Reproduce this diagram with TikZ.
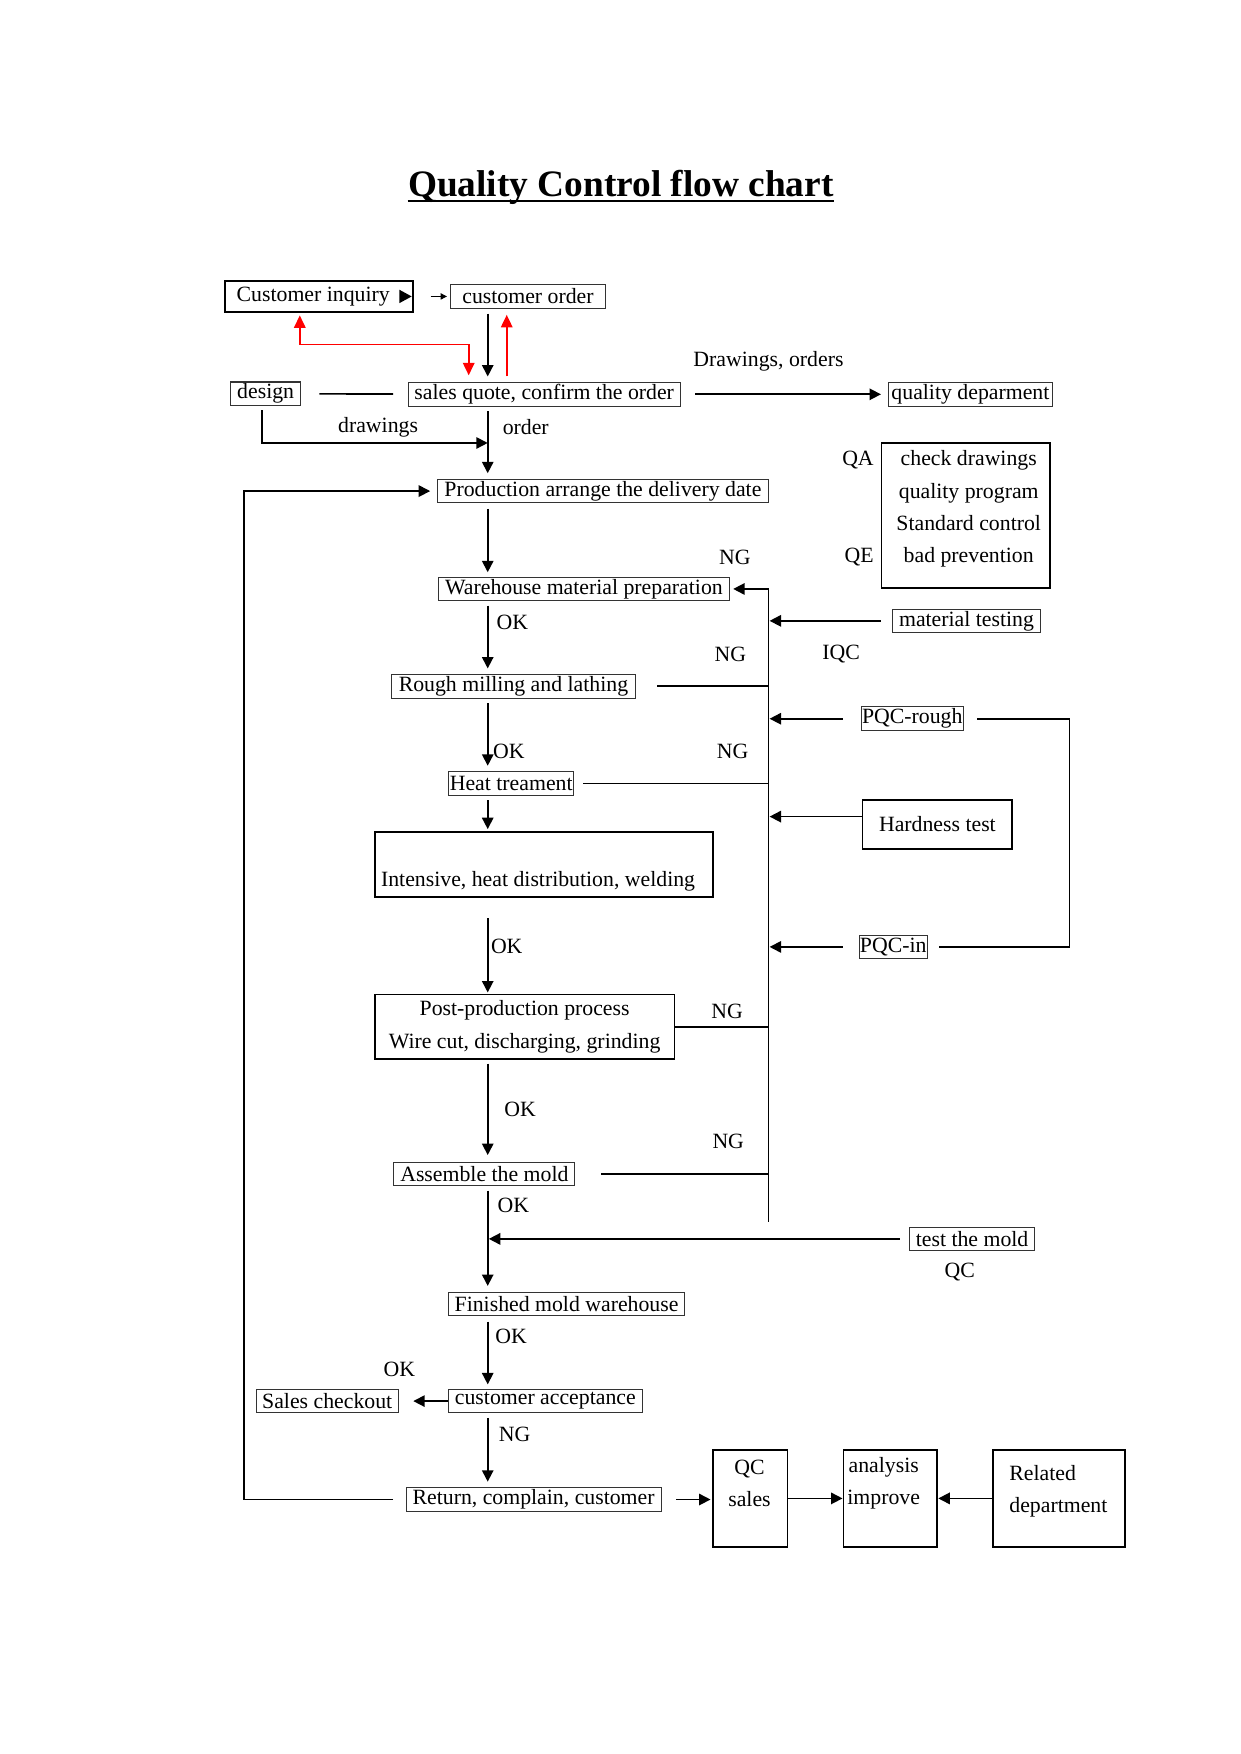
\documentclass[tikz,border=0pt]{standalone}
\usepackage{fontspec}
\setmainfont{Liberation Serif}
\usetikzlibrary{arrows.meta,calc,positioning}
\newlength{\vu}
\setlength{\vu}{0.018945cm}

\begin{document}
\begin{tikzpicture}[x=0.018945cm, y=-0.018945cm,
  font=\fontsize{10.5}{15.6}\selectfont,
  box/.style={draw=black!80, line width=0.5pt, inner sep=0pt, minimum height=21\vu},
  bigbox/.style={draw, line width=0.9pt, inner sep=0pt, align=center},
  lbl/.style={inner sep=0pt},
  ln/.style={line width=0.8pt},
  arr/.style={line width=0.8pt, -{Triangle[length=5.5pt,width=5.5pt]}},
  redarr/.style={draw=red, line width=0.9pt, {Triangle[length=6pt,width=5.5pt]}-{Triangle[length=6pt,width=5.5pt]}},
  redup/.style={draw=red, line width=0.9pt, -{Triangle[length=6pt,width=5.5pt]}}]
  \useasboundingbox (0,0) rectangle (1108.5,1568);

  \node[lbl, anchor=base, font=\fontsize{18}{20}\selectfont\bfseries] (title) at (555,176) {Quality Control flow chart};
  \draw[line width=1pt] ([yshift=-2.2pt]title.base west) -- ([yshift=-2.2pt]title.base east);

  \coordinate (axis) at (436,0);
  \coordinate (bus) at (687,0);
  \coordinate (busbot) at (687,1092);
  \coordinate (rbus) at (956,745);
  \coordinate (loop) at (218,900);
  \coordinate (dj) at (436,396);
  \coordinate (redbend) at (340,308);
  \coordinate (redx) at (453,0);

  \node[box, draw=black, line width=1pt, minimum width=168\vu, minimum height=28\vu] (inq) at (285,265) {Customer inquiry\hspace*{10\vu}};
  \fill (357,259) -- (368,265) -- (357,271) -- cycle;
  \node[box, minimum width=138\vu, minimum height=22\vu] (ord) at (472,265) {customer order};
  \node[box, minimum width=63\vu] (design) at (237.5,352) {design};
  \node[box, minimum width=243\vu] (quote) at (486.5,352.5) {sales quote, confirm the order};
  \node[box, minimum width=147\vu] (qdep) at (867.5,352.5) {quality deparment};
  \node[bigbox, minimum width=151\vu, minimum height=130\vu] (qa) at (863.5,461) {};
  \node[lbl, align=center] (qatext) at (866,455) {check drawings\\quality program\\Standard control\\bad prevention};
  \node[box, minimum width=296\vu] (prod) at (539,439) {Production arrange the delivery date};
  \node[box, minimum width=260\vu] (ware) at (522,526.5) {Warehouse material preparation};
  \node[box, minimum width=132\vu] (mat) at (864,555) {material testing};
  \node[box, minimum width=218\vu] (rough) at (459,613.5) {Rough milling and lathing};
  \node[box, minimum width=91\vu] (pqcr) at (815.5,642.5) {PQC-rough};
  \node[box, minimum width=112\vu] (heat) at (457,700.5) {Heat treament};
  \node[bigbox, minimum width=134\vu, minimum height=44\vu] (hard) at (838,737) {Hardness test};
  \node[bigbox, minimum width=302\vu, minimum height=58\vu] (inten) at (486,773) {};
  \node[lbl] (intentext) at (481,788) {Intensive, heat distribution, welding};
  \node[box, minimum width=61\vu] (pqcin) at (798.5,846.5) {PQC-in};
  \node[bigbox, minimum width=268\vu, minimum height=58\vu] (post) at (469,918) {Post-production process\\Wire cut, discharging, grinding};
  \node[box, minimum width=162\vu] (asm) at (433,1049.5) {Assemble the mold};
  \node[box, minimum width=112\vu] (test) at (869,1107.5) {test the mold};
  \node[box, minimum width=211\vu] (fin) at (506.5,1165.5) {Finished mold warehouse};
  \node[box, minimum width=173\vu] (acc) at (487.5,1252.5) {customer acceptance};
  \node[box, minimum width=127\vu] (sales) at (292.5,1252.5) {Sales checkout};
  \node[box, minimum width=228\vu] (ret) at (477,1340.5) {Return, complain, customer};
  \node[bigbox, minimum width=67\vu, minimum height=87\vu] (qcs) at (670.5,1339.5) {};
  \node[lbl, align=center] (qcstext) at (670,1326) {QC\\sales};
  \node[bigbox, minimum width=84\vu, minimum height=87\vu] (ana) at (796,1339.5) {};
  \node[lbl, align=center] (anatext) at (790,1326) {analysis\\improve};
  \node[bigbox, minimum width=118\vu, minimum height=87\vu] (rel) at (947,1339.5) {};
  \node[lbl, align=left, anchor=west] (reltext) at (902,1333) {Related\\department};

  \node[lbl] (l1) at (687,323) {Drawings, orders};
  \node[lbl] (l2) at (338,382) {drawings};
  \node[lbl] (l3) at (470,382) {order};
  \node[lbl] (l4) at (767,411) {QA};
  \node[lbl] (l5) at (768,498) {QE};
  \node[lbl] (l6) at (657,498) {NG};
  \node[lbl] (l7) at (752,585) {IQC};
  \node[lbl] (l8) at (458,556) {OK};
  \node[lbl] (l9) at (653,585) {NG};
  \node[lbl] (l10) at (455,672) {OK};
  \node[lbl] (l11) at (655,672) {NG};
  \node[lbl] (l12) at (453,846) {OK};
  \node[lbl] (l13) at (650,904) {NG};
  \node[lbl] (l14) at (465,992) {OK};
  \node[lbl] (l15) at (651,1020) {NG};
  \node[lbl] (l16) at (459,1078) {OK};
  \node[lbl] (l17) at (858,1137) {QC};
  \node[lbl] (l18) at (457,1195) {OK};
  \node[lbl] (l19) at (357,1224) {OK};
  \node[lbl] (l20) at (460,1282) {NG};

  \draw[line width=0.5pt, -{Triangle[length=3pt,width=3pt]}, shorten <=15\vu, shorten >=3\vu] (inq) -- (ord);
  \draw[arr, shorten <=4\vu, shorten >=5\vu] (ord.south -| axis) -- (quote.north -| axis);
  \draw[redarr, shorten <=2\vu, shorten >=6\vu] ([xshift=-17\vu]inq.south) |- (redbend) -| ([xshift=-67.5\vu]quote.north);
  \draw[redup, shorten <=5\vu, shorten >=5\vu] (quote.north -| redx) -- (ord.south -| redx);
  \draw[ln, shorten <=16\vu, shorten >=13\vu] (design) -- (quote);
  \draw[arr, shorten <=13\vu, shorten >=6\vu] (quote) -- (qdep);
  \draw[arr, shorten <=4\vu] ([xshift=-3.5\vu]design.south) |- (dj);
  \draw[arr, shorten <=4\vu, shorten >=5\vu] (quote.south -| axis) -- (prod.north -| axis);
  \draw[arr, shorten <=11\vu, shorten >=6\vu] (ret.west) -| (loop) |- (prod.west);
  \draw[arr, shorten <=5\vu, shorten >=4\vu] (prod.south -| axis) -- (ware.north -| axis);

  \draw[arr, shorten >=3\vu] (busbot) |- (ware.east);
  \draw[arr, shorten <=10\vu, shorten >=1\vu] (mat.west) -- (mat.west -| bus);
  \draw[ln, shorten <=19\vu] (rough.east) -- (rough.east -| bus);
  \draw[arr, shorten <=16\vu, shorten >=1\vu] (pqcr.west) -- (pqcr.west -| bus);
  \draw[ln, shorten <=12\vu, shorten >=10\vu] (pqcr.east) -| (rbus) |- (pqcin.east);
  \draw[ln, shorten <=8\vu] (heat.east) -- (heat.east -| bus);
  \draw[arr, shorten >=1\vu] ([yshift=7\vu]hard.west) -- ([yshift=7\vu]hard.west -| bus);
  \draw[arr, shorten <=14\vu, shorten >=1\vu] (pqcin.west) -- (pqcin.west -| bus);
  \draw[ln] (post.east) -- (post.east -| bus);
  \draw[ln, shorten <=23\vu] (asm.east) -- (asm.east -| bus);

  \draw[arr, shorten <=4\vu, shorten >=5\vu] (ware.south -| axis) -- (rough.north -| axis);
  \draw[arr, shorten <=4\vu, shorten >=5\vu] (rough.south -| axis) -- (heat.north -| axis);
  \draw[arr, shorten <=4\vu, shorten >=2\vu] (heat.south -| axis) -- (inten.north -| axis);
  \draw[arr, shorten <=18\vu, shorten >=1\vu] (inten.south -| axis) -- (post.north -| axis);
  \draw[arr, shorten <=3\vu, shorten >=6\vu] (post.south -| axis) -- (asm.north -| axis);
  \draw[arr, shorten <=4\vu, shorten >=5\vu] (asm.south -| axis) -- (fin.north -| axis);
  \draw[arr, shorten <=8\vu, shorten >=1\vu] (test.west) -- (test.west -| axis);
  \draw[arr, shorten <=5\vu, shorten >=4\vu] (fin.south -| axis) -- (acc.north -| axis);
  \draw[arr, shorten >=13\vu] (acc.west) -- (sales.east);
  \draw[arr, shorten <=4\vu, shorten >=5\vu] (acc.south -| axis) -- (ret.north -| axis);
  \draw[arr, shorten <=13\vu, shorten >=1\vu] (ret.east) -- (ret.east -| qcs.west);
  \draw[arr] (qcs) -- (ana);
  \draw[arr] (rel) -- (ana);
\end{tikzpicture}
\end{document}
